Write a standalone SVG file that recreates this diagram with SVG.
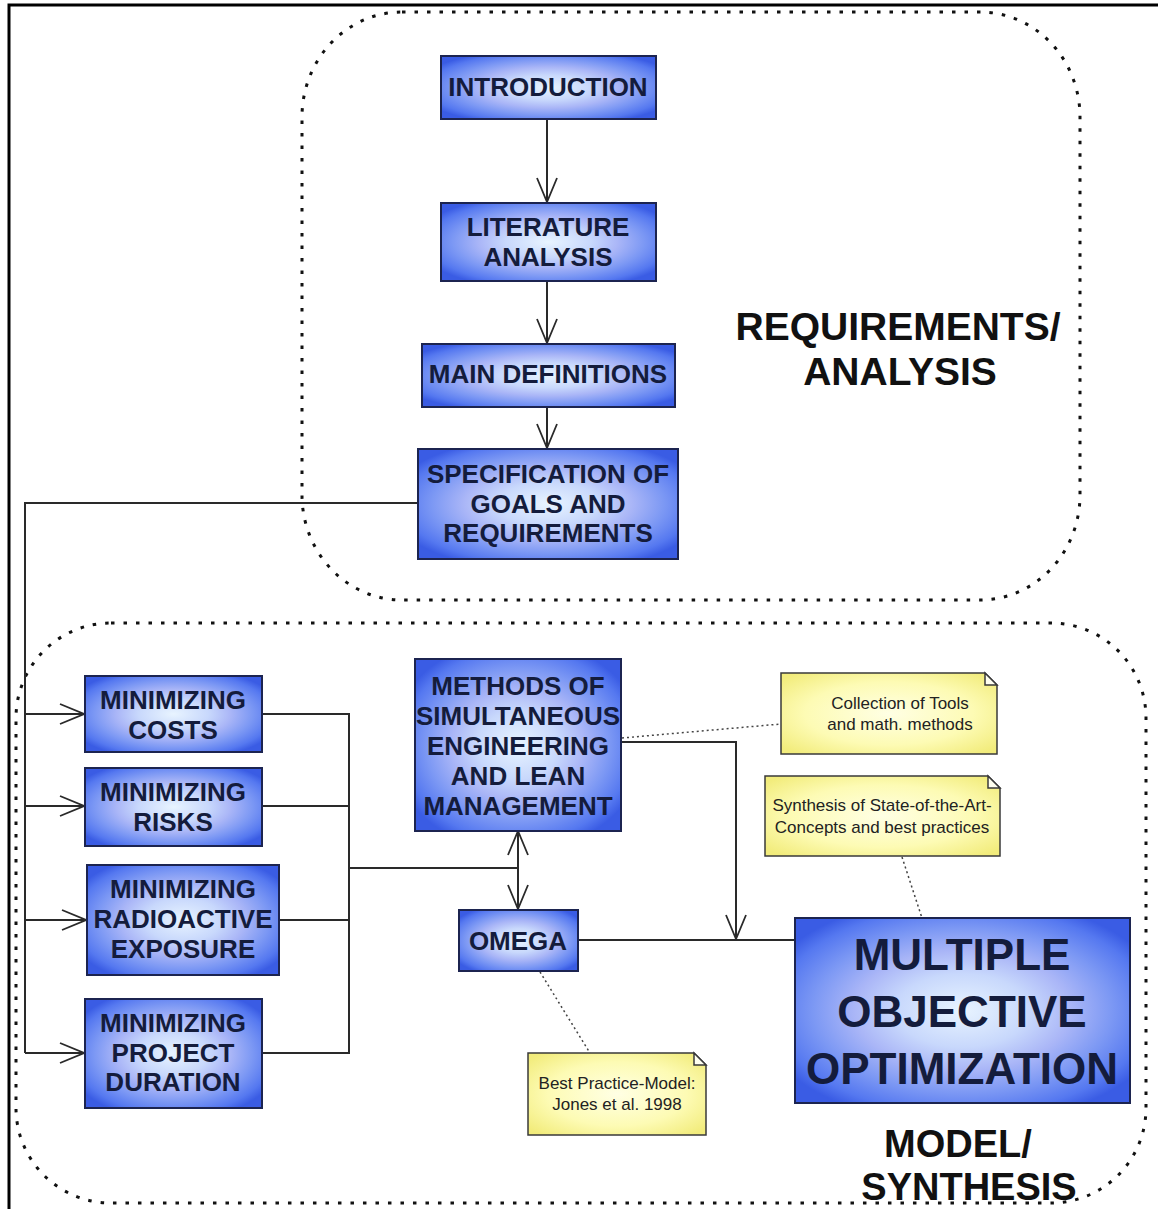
<svg xmlns="http://www.w3.org/2000/svg" width="1158" height="1209" viewBox="0 0 1158 1209">
<defs>
<radialGradient id="boxg" cx="0.5" cy="0.5" r="0.62">
<stop offset="0" stop-color="#e8f4ff"/>
<stop offset="0.32" stop-color="#c8d8fc"/>
<stop offset="0.52" stop-color="#aab6f7"/>
<stop offset="0.72" stop-color="#7c98f4"/>
<stop offset="0.9" stop-color="#5578f0"/>
<stop offset="1" stop-color="#3a5ce4"/>
</radialGradient>
<radialGradient id="noteg" cx="0.5" cy="0.5" r="0.65">
<stop offset="0" stop-color="#ffffe4"/>
<stop offset="0.6" stop-color="#fdfbb4"/>
<stop offset="1" stop-color="#f2ec7c"/>
</radialGradient>
<marker id="arr" viewBox="-26 -12 28 24" markerWidth="28" markerHeight="24" refX="0" refY="0" orient="auto-start-reverse" markerUnits="userSpaceOnUse">
<path d="M-24,-10 L0,0 L-24,10" fill="none" stroke="#2a2a2a" stroke-width="1.8"/>
</marker>
<style>
.box{fill:url(#boxg);stroke:#1c2450;stroke-width:2}
.bt{font-family:"Liberation Sans",Arial,sans-serif;font-weight:bold;font-size:26px;fill:#141c3c;text-anchor:middle}
.big{font-size:44px}
.note{fill:url(#noteg);stroke:#3a3a3a;stroke-width:1.5}
.fold{fill:#fffff0;stroke:#3a3a3a;stroke-width:1.5}
.nt{font-family:"Liberation Sans",Arial,sans-serif;font-size:17px;fill:#222;text-anchor:middle}
.lbl{font-family:"Liberation Sans",Arial,sans-serif;font-weight:bold;font-size:39px;fill:#111;text-anchor:middle}
.grp{fill:none;stroke:#111;stroke-width:3;stroke-dasharray:3.5 9}
.ln{fill:none;stroke:#2a2a2a;stroke-width:2}
.arw{fill:none;stroke:#2a2a2a;stroke-width:2;marker-end:url(#arr)}
.dot{fill:none;stroke:#444;stroke-width:1.5;stroke-dasharray:2 3}
</style>
</defs>
<rect width="1158" height="1209" fill="#ffffff"/>
<path d="M9,1209 V5 H1158" fill="none" stroke="#000" stroke-width="3"/>

<g id="groups">
<rect class="grp" x="302" y="12" width="778" height="588" rx="100" ry="105"/>
<rect class="grp" x="16" y="623" width="1130" height="580" rx="95" ry="95"/>
<text class="lbl" x="898" y="340">REQUIREMENTS/</text>
<text class="lbl" x="900" y="385">ANALYSIS</text>
<text class="lbl" x="958" y="1157" style="font-size:38px">MODEL/</text>
<text class="lbl" x="969" y="1200" style="font-size:38px">SYNTHESIS</text>
</g>

<g id="connectors">
<path class="arw" d="M547,119 V202"/>
<path class="arw" d="M547,281 V343"/>
<path class="arw" d="M547,407 V448"/>
<path class="ln" d="M418,503 H25 V1053"/>
<path class="arw" d="M25,714 H84"/>
<path class="arw" d="M25,806 H84"/>
<path class="arw" d="M25,920 H86"/>
<path class="arw" d="M25,1053 H84"/>
<path class="ln" d="M262,714 H349 V1053 H262"/>
<path class="ln" d="M262,806 H349"/>
<path class="ln" d="M279,920 H349"/>
<path class="ln" d="M349,868 H518"/>
<path class="ln" d="M518,831 V909" style="marker-start:url(#arr);marker-end:url(#arr)"/>
<path class="arw" d="M621,742 H736 V939"/>
<path class="ln" d="M578,940 H795"/>
<path class="dot" d="M622,738 L781,724"/>
<path class="dot" d="M902,857 L922,918"/>
<path class="dot" d="M540,972 L590,1053"/>
</g>

<g id="introduction">
<rect class="box" x="441" y="56" width="215" height="63"/>
<text class="bt" x="548" y="96">INTRODUCTION</text>
</g>
<g id="literature-analysis">
<rect class="box" x="441" y="203" width="215" height="78"/>
<text class="bt" x="548" y="236">LITERATURE</text>
<text class="bt" x="548" y="266">ANALYSIS</text>
</g>
<g id="main-definitions">
<rect class="box" x="422" y="344" width="253" height="63"/>
<text class="bt" x="548" y="383">MAIN DEFINITIONS</text>
</g>
<g id="specification">
<rect class="box" x="418" y="449" width="260" height="110"/>
<text class="bt" x="548" y="483">SPECIFICATION OF</text>
<text class="bt" x="548" y="513">GOALS AND</text>
<text class="bt" x="548" y="542">REQUIREMENTS</text>
</g>
<g id="min-costs">
<rect class="box" x="85" y="676" width="177" height="76"/>
<text class="bt" x="173" y="709">MINIMIZING</text>
<text class="bt" x="173" y="739">COSTS</text>
</g>
<g id="min-risks">
<rect class="box" x="85" y="768" width="177" height="78"/>
<text class="bt" x="173" y="801">MINIMIZING</text>
<text class="bt" x="173" y="831">RISKS</text>
</g>
<g id="min-radioactive">
<rect class="box" x="87" y="865" width="192" height="110"/>
<text class="bt" x="183" y="898">MINIMIZING</text>
<text class="bt" x="183" y="928">RADIOACTIVE</text>
<text class="bt" x="183" y="958">EXPOSURE</text>
</g>
<g id="min-duration">
<rect class="box" x="85" y="999" width="177" height="109"/>
<text class="bt" x="173" y="1032">MINIMIZING</text>
<text class="bt" x="173" y="1062">PROJECT</text>
<text class="bt" x="173" y="1091">DURATION</text>
</g>
<g id="methods">
<rect class="box" x="415" y="659" width="206" height="172"/>
<text class="bt" x="518" y="695">METHODS OF</text>
<text class="bt" x="518" y="725">SIMULTANEOUS</text>
<text class="bt" x="518" y="755">ENGINEERING</text>
<text class="bt" x="518" y="785">AND LEAN</text>
<text class="bt" x="518" y="815">MANAGEMENT</text>
</g>
<g id="omega">
<rect class="box" x="459" y="910" width="119" height="61"/>
<text class="bt" x="518" y="950">OMEGA</text>
</g>
<g id="moo">
<rect class="box" x="795" y="918" width="335" height="185"/>
<text class="bt big" x="962" y="970">MULTIPLE</text>
<text class="bt big" x="962" y="1027">OBJECTIVE</text>
<text class="bt big" x="962" y="1084">OPTIMIZATION</text>
</g>
<g id="note-tools">
<path class="note" d="M781,673 H985 L997,685 V754 H781 Z"/>
<path class="fold" d="M985,673 V685 H997 Z"/>
<text class="nt" x="900" y="709">Collection of Tools</text>
<text class="nt" x="900" y="730">and math. methods</text>
</g>
<g id="note-synthesis">
<path class="note" d="M765,776 H988 L1000,788 V856 H765 Z"/>
<path class="fold" d="M988,776 V788 H1000 Z"/>
<text class="nt" x="882" y="811">Synthesis of State-of-the-Art-</text>
<text class="nt" x="882" y="833">Concepts and best practices</text>
</g>
<g id="note-bestpractice">
<path class="note" d="M528,1053 H694 L706,1065 V1135 H528 Z"/>
<path class="fold" d="M694,1053 V1065 H706 Z"/>
<text class="nt" x="617" y="1089">Best Practice-Model:</text>
<text class="nt" x="617" y="1110">Jones et al. 1998</text>
</g>
</svg>
